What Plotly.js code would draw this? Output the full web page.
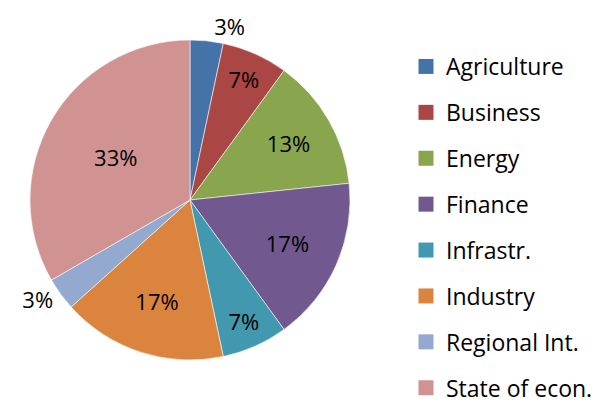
<!DOCTYPE html>
<html><head><meta charset="utf-8">
<script src="https://cdn.plot.ly/plotly-3.0.1.min.js"></script>
<style>html,body{margin:0;padding:0;background:#fff;overflow:hidden}</style>
</head><body><div id="chart" style="width:604px;height:410px"></div>
<script>
const categories = ["Agriculture", "Business", "Energy", "Finance", "Infrastr.", "Industry", "Regional Int.", "State of econ."];
const counts = [1, 2, 4, 5, 2, 5, 1, 10];
const colors = ["#4572A7", "#AA4643", "#89A54E", "#71588F", "#4198AF", "#DB843D", "#93A9CF", "#D19392"];
const textPos = ["outside", "inside", "inside", "inside", "inside", "inside", "outside", "inside"];

const FONT = "Open Sans, sans-serif";
const H = 410;
const pie = {
  type: "pie",
  labels: categories,
  values: counts,
  sort: false,
  direction: "clockwise",
  rotation: 0,
  marker: {colors: colors, line: {color: "rgba(255,255,255,0.7)", width: 0.8}},
  texttemplate: "%{percent:.0%}",
  textposition: textPos,
  insidetextorientation: "horizontal",
  textfont: {family: FONT, size: 22, color: "#000"},
  domain: {x: [30/604, 350/604], y: [1-360/H, 1-40/H]},
  showlegend: false,
  hoverinfo: "label+percent"
};
const legendTraces = categories.map((c, i) => ({
  type: "scatter", mode: "markers", x: [null], y: [null], name: c,
  legendgroup: "g" + i,
  marker: {symbol: "square", size: 15, color: colors[i], line: {width: 0}}
}));
const layout = {
  width: 604, height: H,
  margin: {l: 0, r: 0, t: 0, b: 0},
  paper_bgcolor: "#fff", plot_bgcolor: "#fff",
  xaxis: {visible: false}, yaxis: {visible: false},
  showlegend: true,
  legend: {
    x: 406/604, xanchor: "left", y: 0, yanchor: "bottom",
    font: {family: FONT, size: 23, color: "#000"},
    tracegroupgap: 13, itemsizing: "trace", bgcolor: "rgba(0,0,0,0)"
  }
};
Plotly.newPlot("chart", [pie].concat(legendTraces), layout, {staticPlot: true});
</script></body></html>
